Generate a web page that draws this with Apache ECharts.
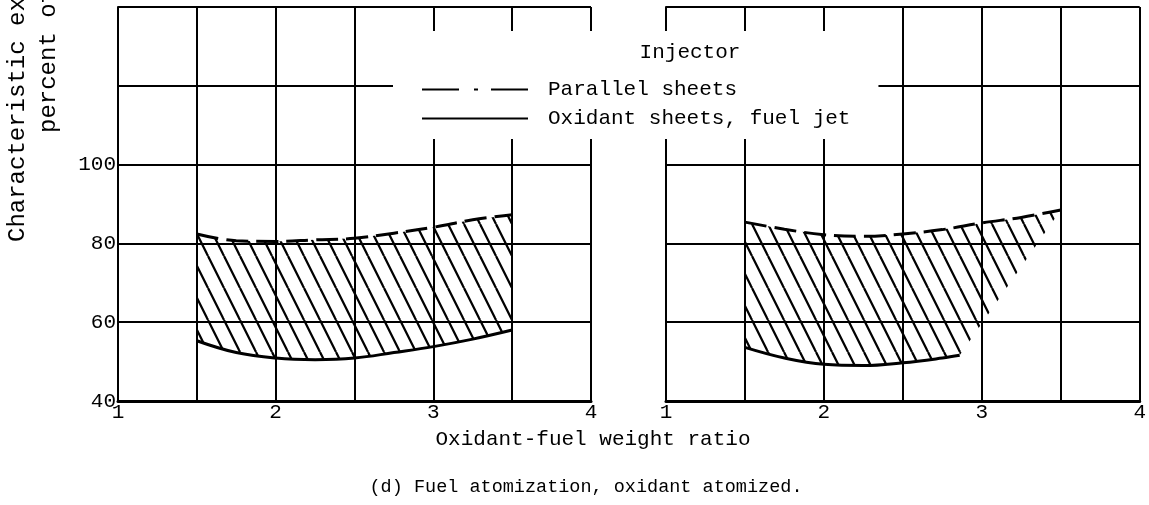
<!DOCTYPE html>
<html><head><meta charset="utf-8">
<script src="https://cdn.jsdelivr.net/npm/echarts@6/dist/echarts.min.js"></script>
<style>html,body{margin:0;padding:0;background:#fff}#c{width:1149px;height:505px}</style>
</head><body><div id="c"></div>
<script>
// ---- data ----
const xTickLabels = ['1', '2', '3', '4'];
const yTickLabels = ['40', '60', '80', '100'];
const seriesNames = ['Parallel sheets', 'Oxidant sheets, fuel jet'];

const leftX = [1.5, 1.75, 2, 2.25, 2.5, 2.75, 3, 3.25, 3.5];
const leftParallel = [82.4, 80.7, 80.5, 80.9, 81.3, 82.6, 84.1, 86.0, 87.3];
const leftOxidant = [55.3, 52.3, 50.9, 50.5, 50.9, 52.3, 53.8, 55.7, 58.0];

const rightUpperX = [1.5, 1.75, 2, 2.25, 2.5, 2.75, 3, 3.25, 3.5];
const rightParallel = [85.4, 83.6, 82.2, 81.8, 82.4, 83.5, 85.2, 86.6, 88.5];
const rightLowerX = [1.5, 1.75, 2, 2.25, 2.5, 2.75, 2.86];
const rightOxidant = [53.6, 50.9, 49.3, 49.0, 49.7, 50.9, 51.6];

// ---- styling ----
const FONT = '"Liberation Mono", "DejaVu Sans Mono", monospace';
const chart = echarts.init(document.getElementById('c'), null, {renderer: 'canvas'});

const hatch = document.createElement('canvas');
hatch.width = 16; hatch.height = 32;
(function () {
  const ctx = hatch.getContext('2d');
  ctx.strokeStyle = '#000';
  ctx.lineWidth = 2.2;
  [-16, 0, 16].forEach(o => { ctx.beginPath(); ctx.moveTo(o, 0); ctx.lineTo(o + 16, 32); ctx.stroke(); });
})();

function pairs(xs, ys) { return xs.map((x, i) => [x, ys[i]]); }

function xAxis(idx) {
  return {
    type: 'value', gridIndex: idx, min: 1, max: 4, interval: 0.5,
    axisLine: {show: true, onZero: false, lineStyle: {color: '#000', width: 3}},
    axisTick: {show: false},
    splitLine: {show: true, lineStyle: {color: '#000', width: 2}},
    axisLabel: {
      color: '#000', fontFamily: FONT, fontSize: 21, margin: 1,
      formatter: v => xTickLabels.includes(String(v)) ? String(v) : ''
    }
  };
}
function yAxis(idx, labels) {
  return {
    type: 'value', gridIndex: idx, min: 40, max: 140, interval: 20,
    axisLine: {show: true, lineStyle: {color: '#000', width: 2}},
    axisTick: {show: false},
    splitLine: {show: true, lineStyle: {color: '#000', width: 2}},
    axisLabel: {
      show: labels, color: '#000', fontFamily: FONT, fontSize: 21, margin: 2,
      formatter: v => yTickLabels.includes(String(v)) ? String(v) : ''
    }
  };
}
function hatchSeries(idx, upX, upY, loX, loY) {
  return {
    type: 'custom', xAxisIndex: idx, yAxisIndex: idx, silent: true, z: 1,
    data: [[upX[0], upY[0]]],
    renderItem: function (params, api) {
      const pts = [];
      for (let i = 0; i < upX.length; i++) pts.push(api.coord([upX[i], upY[i]]));
      for (let i = loX.length - 1; i >= 0; i--) pts.push(api.coord([loX[i], loY[i]]));
      return {type: 'polygon', shape: {points: pts},
        style: {fill: {image: hatch, repeat: 'repeat'}, stroke: null}};
    }
  };
}
function upperLine(idx, xs, ys) {
  return {name: seriesNames[0], type: 'line', xAxisIndex: idx, yAxisIndex: idx,
    data: pairs(xs, ys), smooth: 0.4, symbol: 'none', color: '#000',
    lineStyle: {color: '#000', width: 3, type: [22, 8]}, z: 3};
}
function lowerLine(idx, xs, ys) {
  return {name: seriesNames[1], type: 'line', xAxisIndex: idx, yAxisIndex: idx,
    data: pairs(xs, ys), smooth: 0.4, symbol: 'none', color: '#000',
    lineStyle: {color: '#000', width: 3, type: 'solid'}, z: 3};
}

const noSymbol = {color: 'rgba(0,0,0,0)', borderWidth: 0, opacity: 0};
const option = {
  backgroundColor: '#fff',
  animation: false,
  grid: [
    {left: 118, top: 7, width: 473, height: 394},
    {left: 666, top: 7, width: 476, height: 394}
  ],
  xAxis: [xAxis(0), xAxis(1)],
  yAxis: [yAxis(0, true), yAxis(1, false)],
  legend: {
    orient: 'vertical', left: 393, top: 31,
    padding: [48, 28, 10, 28],
    backgroundColor: '#fff',
    itemWidth: 106, itemHeight: 20, itemGap: 8,
    itemStyle: noSymbol,
    textStyle: {color: '#000', fontFamily: FONT, fontSize: 21, padding: [0, 0, 0, 15]},
    data: [
      {name: seriesNames[0], itemStyle: noSymbol, lineStyle: {type: [37, 15, 4, 13], width: 2, color: '#000', opacity: 1}},
      {name: seriesNames[1], itemStyle: noSymbol, lineStyle: {type: 'solid', width: 2, color: '#000', opacity: 1}}
    ],
    selectedMode: false
  },
  graphic: [
    {type: 'text', x: 690, y: 52, z: 100,
      style: {text: 'Injector', font: '21px ' + FONT, fill: '#000',
        align: 'center', verticalAlign: 'middle', textAlign: 'center', textVerticalAlign: 'middle'}},
    {type: 'text', x: 18, y: 242, rotation: Math.PI / 2, z: 100,
      style: {text: 'Characteristic ex', font: '24px ' + FONT, fill: '#000',
        align: 'left', verticalAlign: 'middle', textAlign: 'left', textVerticalAlign: 'middle'}},
    {type: 'text', x: 49, y: 133, rotation: Math.PI / 2, z: 100,
      style: {text: 'percent of', font: '24px ' + FONT, fill: '#000',
        align: 'left', verticalAlign: 'middle', textAlign: 'left', textVerticalAlign: 'middle'}},
    {type: 'text', x: 593, y: 439, z: 100,
      style: {text: 'Oxidant-fuel weight ratio', font: '21px ' + FONT, fill: '#000',
        align: 'center', verticalAlign: 'middle', textAlign: 'center', textVerticalAlign: 'middle'}},
    {type: 'text', x: 586, y: 487, z: 100,
      style: {text: '(d) Fuel atomization, oxidant atomized.', font: '18.5px ' + FONT, fill: '#000',
        align: 'center', verticalAlign: 'middle', textAlign: 'center', textVerticalAlign: 'middle'}}
  ],
  series: [
    hatchSeries(0, leftX, leftParallel, leftX, leftOxidant),
    hatchSeries(1, rightUpperX, rightParallel, rightLowerX, rightOxidant),
    upperLine(0, leftX, leftParallel),
    lowerLine(0, leftX, leftOxidant),
    upperLine(1, rightUpperX, rightParallel),
    lowerLine(1, rightLowerX, rightOxidant)
  ]
};
chart.setOption(option);
</script></body></html>
